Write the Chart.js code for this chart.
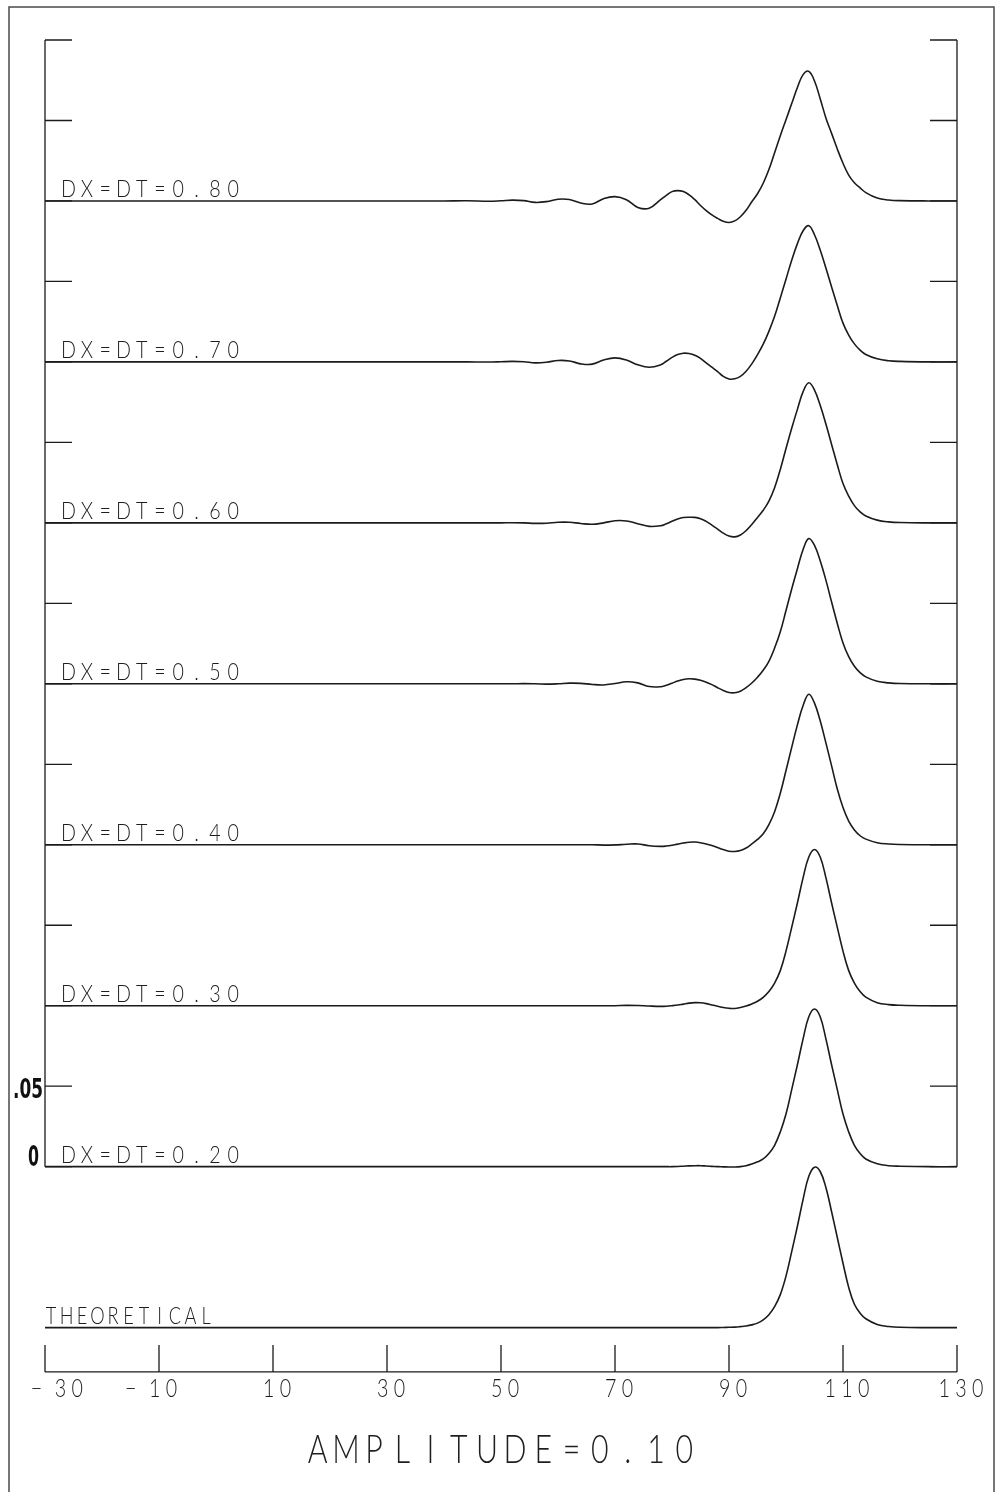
<!DOCTYPE html>
<html>
<head>
<meta charset="utf-8">
<script src="https://cdn.jsdelivr.net/npm/chart.js@4.4.1/dist/chart.umd.min.js"></script>
<style>
  html, body { margin: 0; padding: 0; background: #fff; }
  #wrap { position: relative; width: 997px; height: 1492px; }
</style>
</head>
<body>
<div id="wrap"><canvas id="plot"></canvas></div>
<script>
// x positions shared by every trace
const xs = [-30, 0, 30, 40, 44, 48, 50, 52, 54, 56, 58, 60, 62, 64, 66, 68, 70, 72, 74, 76, 78,
  79, 80, 81, 82, 83, 84, 85, 86, 87, 88, 89, 90, 91, 92, 93, 94, 95, 96,
  97, 98, 99, 100, 101, 102, 103, 104, 105, 106, 107, 108, 109, 110, 111, 112, 113, 114,
  116, 118, 120, 125, 130];

// amplitude of each trace, measured from its own baseline
const theoretical = [0, 0, 0, 0, 0, 0, 0, 0, 0, 0, 0, 0, 0, 0, 0, 0, 0, 0, 0, 0, 0,
  0, 0, 0, 0, 0, 0, 0, 0, 0, 0, 0.0001, 0.0002, 0.0003, 0.0006, 0.001, 0.0017, 0.0028, 0.0048,
  0.008, 0.013, 0.0205, 0.032, 0.0472, 0.063, 0.0797, 0.094, 0.0997, 0.097, 0.087, 0.072, 0.056, 0.040, 0.025, 0.0145, 0.009, 0.0055,
  0.002, 0.0007, 0.0002, 0, 0];
const dxdt20 = [0, 0, 0, 0, 0, 0, 0, 0, 0, 0, 0, 0, 0, 0, 0, 0, 0, 0, 0, 0, 0,
  0, 0, 0.0001, 0.0003, 0.0005, 0.0006, 0.0006, 0.0004, 0.0002, 0, -0.0001, -0.0002, -0.0002, 0, 0.0006, 0.0016, 0.003, 0.0048,
  0.0082, 0.0133, 0.0216, 0.0327, 0.0479, 0.0633, 0.0794, 0.0931, 0.098, 0.0931, 0.0794, 0.0633, 0.0479, 0.0327, 0.0216, 0.0133, 0.0082, 0.0048,
  0.0018, 0.0006, 0.0003, 0, 0];
const dxdt30 = [0, 0, 0, 0, 0, 0, 0, 0, 0, 0, 0, 0, 0, 0, 0, 0, 0, 0.0002, 0.0001, -0.0002, -0.0004,
  -0.0003, 0, 0.0004, 0.001, 0.0016, 0.0019, 0.0018, 0.0013, 0.0005, -0.0003, -0.0011, -0.0016, -0.0017, -0.0011, -0.0002, 0.0011, 0.0028, 0.0052,
  0.0088, 0.0141, 0.0218, 0.0339, 0.0487, 0.0638, 0.0796, 0.0924, 0.0971, 0.0924, 0.0796, 0.0638, 0.0487, 0.0339, 0.0218, 0.0141, 0.0088, 0.0053,
  0.0019, 0.0007, 0.0003, 0, 0];
const dxdt40 = [0, 0, 0, 0, 0, 0, 0, 0, 0, 0, 0, 0, 0, 0, 0, -0.0002, -0.0001, 0.0003, 0.0005, -0.0006, -0.001,
  -0.0008, -0.0003, 0.0004, 0.0011, 0.0016, 0.0017, 0.0013, 0.0005, -0.0005, -0.0017, -0.003, -0.004, -0.0042, -0.0036, -0.002, 0.0005, 0.0033, 0.0068,
  0.0125, 0.0205, 0.032, 0.0461, 0.0605, 0.0745, 0.0865, 0.0935, 0.088, 0.077, 0.0633, 0.049, 0.0346, 0.0231, 0.0147, 0.0092, 0.0056, 0.0035,
  0.0013, 0.0005, 0.0002, 0, 0];
const dxdt50 = [0, 0, 0, 0, 0, 0, 0, 0, 0.0001, 0, -0.0002, 0, 0.0004, 0.0003, -0.0004, -0.0007, 0.0002, 0.0013, 0.0006, -0.0017, -0.0018,
  -0.0009, 0.0004, 0.0017, 0.0027, 0.0031, 0.0029, 0.0022, 0.001, -0.0005, -0.0024, -0.0041, -0.0054, -0.0056, -0.0046, -0.0024, 0.0005, 0.0041, 0.0084,
  0.014, 0.0222, 0.0323, 0.0455, 0.0589, 0.0715, 0.0835, 0.0903, 0.086, 0.0765, 0.0644, 0.0508, 0.0375, 0.0254, 0.0169, 0.0109, 0.0069, 0.0043,
  0.0016, 0.0006, 0.0002, 0, 0];
const dxdt60 = [0, 0, 0, 0, 0, 0, 0, 0.0001, 0, -0.0003, -0.0002, 0.0004, 0.0004, -0.0004, -0.0009, 0, 0.0013, 0.0012, -0.0005, -0.0022, -0.0018,
  -0.0006, 0.001, 0.0024, 0.0033, 0.0035, 0.0034, 0.0026, 0.0009, -0.0014, -0.0039, -0.0064, -0.0082, -0.0087, -0.0075, -0.0048, -0.001, 0.0033, 0.0078,
  0.0135, 0.0218, 0.0332, 0.0462, 0.0588, 0.0705, 0.0815, 0.087, 0.0825, 0.073, 0.0614, 0.0487, 0.0361, 0.0244, 0.0166, 0.0107, 0.0068, 0.0043,
  0.0017, 0.0006, 0.0002, 0, 0];
const dxdt70 = [0, 0, 0, 0, 0, -0.0001, 0.0001, 0.0003, 0.0001, -0.0006, -0.0002, 0.0009, 0.0006, -0.0012, -0.0014, 0.0012, 0.0025, 0.0012, -0.0018, -0.0033, -0.0018,
  0.0004, 0.0028, 0.0046, 0.0054, 0.0052, 0.0042, 0.0022, -0.0006, -0.0033, -0.006, -0.009, -0.0106, -0.0105, -0.009, -0.0058, -0.0012, 0.0045, 0.011,
  0.019, 0.0283, 0.0397, 0.0514, 0.0632, 0.0735, 0.0815, 0.0846, 0.079, 0.0695, 0.0583, 0.0466, 0.035, 0.0241, 0.0167, 0.0112, 0.0073, 0.0046,
  0.0019, 0.0007, 0.0003, 0, 0];
const dxdt80 = [0, 0, 0, 0, 0.0001, -0.0002, 0.0001, 0.0005, 0.0002, -0.0009, -0.0004, 0.0011, 0.0009, -0.0013, -0.0019, 0.0014, 0.0027, 0.0008, -0.004, -0.0045, 0.0008,
  0.0035, 0.0058, 0.0064, 0.0058, 0.0038, 0.0008, -0.0028, -0.006, -0.0087, -0.0108, -0.0126, -0.0134, -0.0124, -0.0098, -0.0058, -0.0005, 0.0045, 0.011,
  0.0195, 0.03, 0.0405, 0.0505, 0.0605, 0.0705, 0.0785, 0.0805, 0.0745, 0.0635, 0.0516, 0.042, 0.0323, 0.0234, 0.0161, 0.0113, 0.0081, 0.0052,
  0.0018, 0.0006, 0.0002, 0, 0];

const traces = [theoretical, dxdt20, dxdt30, dxdt40, dxdt50, dxdt60, dxdt70, dxdt80];
const traceLabels = ['THEORETICAL', 'DX=DT=0.20', 'DX=DT=0.30', 'DX=DT=0.40', 'DX=DT=0.50',
  'DX=DT=0.60', 'DX=DT=0.70', 'DX=DT=0.80'];
// each trace is stacked 0.1 above the previous one
const traceOffsets = [0, 0.1, 0.2, 0.3, 0.4, 0.5, 0.6, 0.7];

const xTicks = [-30, -10, 10, 30, 50, 70, 90, 110, 130];
const frameTicks = [0.1, 0.15, 0.2, 0.25, 0.3, 0.35, 0.4, 0.45, 0.5, 0.55, 0.6, 0.65, 0.7, 0.75, 0.8];
const ampTickValues = [0.1, 0.15];
const ampTickText = ['0', '.05'];
const axisY = -0.0275;
const title = 'AMPLITUDE=0.10';

const INK = '#1b1b1b';

// plotter style lettering: fixed pitch, thin strokes
function plotText(ctx, str, x, baseY, cap, pitch, glyphW) {
  const size = cap / 0.72;
  ctx.font = `300 ${size}px Lato, "DejaVu Sans", sans-serif`;
  ctx.textAlign = 'center';
  ctx.textBaseline = 'alphabetic';
  ctx.fillStyle = '#1e1e1e';
  const sx = glyphW / (size * 0.66);
  for (let i = 0; i < str.length; i++) {
    const ch = str[i];
    if (ch === ' ') continue;
    ctx.save();
    ctx.translate(x + i * pitch + glyphW / 2, baseY);
    ctx.scale(sx, 1);
    ctx.fillText(ch, 0, 0);
    ctx.restore();
  }
}

function fittedText(ctx, str, rightX, baseY, size, width) {
  ctx.font = `bold ${size}px "Liberation Sans Narrow", "DejaVu Sans Condensed", "Liberation Sans", sans-serif`;
  ctx.textAlign = 'left';
  ctx.textBaseline = 'alphabetic';
  ctx.fillStyle = '#111';
  const w = ctx.measureText(str).width;
  ctx.save();
  ctx.translate(rightX - width, baseY);
  ctx.scale(width / w, 1);
  ctx.fillText(str, 0, 0);
  ctx.restore();
}

const decorations = {
  id: 'decorations',
  afterDatasetsDraw(chart) {
    const ctx = chart.ctx;
    const x = chart.scales.x, y = chart.scales.y;
    const left = x.getPixelForValue(-30), right = x.getPixelForValue(130);
    const tickLen = 27;

    ctx.save();
    // page border
    ctx.strokeStyle = '#4a4a4a';
    ctx.lineWidth = 1.5;
    ctx.beginPath();
    ctx.moveTo(9, 1492); ctx.lineTo(9, 7); ctx.lineTo(994, 7); ctx.lineTo(994, 1492);
    ctx.stroke();

    // frame around the stacked traces
    ctx.strokeStyle = INK;
    ctx.lineWidth = 1.3;
    ctx.beginPath();
    ctx.moveTo(left, y.getPixelForValue(0.1)); ctx.lineTo(left, y.getPixelForValue(0.8));
    ctx.moveTo(right, y.getPixelForValue(0.1)); ctx.lineTo(right, y.getPixelForValue(0.8));
    frameTicks.forEach(v => {
      const py = y.getPixelForValue(v);
      ctx.moveTo(left, py); ctx.lineTo(left + tickLen, py);
      ctx.moveTo(right - tickLen, py); ctx.lineTo(right, py);
    });
    ctx.stroke();

    // x axis with upward ticks
    const ay = y.getPixelForValue(axisY);
    ctx.beginPath();
    ctx.moveTo(left, ay); ctx.lineTo(right, ay);
    xTicks.forEach(v => {
      const px = x.getPixelForValue(v);
      ctx.moveTo(px, ay); ctx.lineTo(px, ay - tickLen);
    });
    ctx.stroke();

    // tick labels
    const pitch = 16.7, gw = 13;
    xTicks.forEach(v => {
      const px = x.getPixelForValue(v);
      const digits = String(Math.abs(v));
      const dw = (digits.length - 1) * pitch + gw;
      let start = px + 4 - dw / 2;
      if (v < 0) start -= 24;
      start = Math.max(start, 30);
      if (v < 0) {
        plotText(ctx, '\u2212', start, ay + 25, 19, pitch, gw);
        plotText(ctx, digits, start + 24, ay + 25, 19, pitch, gw);
      } else {
        plotText(ctx, digits, start, ay + 25, 19, pitch, gw);
      }
    });

    // title
    const tp = 28.2, tg = 20;
    const tw = (title.length - 1) * tp + tg;
    const mid = (left + right) / 2;
    plotText(ctx, title, mid - tw / 2, ay + 91, 28, tp, tg);

    // trace labels sitting on each baseline
    traceLabels.forEach((lab, i) => {
      const py = y.getPixelForValue(traceOffsets[i]) - 4;
      if (i === 0) plotText(ctx, lab, left, py, 17, 15.5, 12);
      else plotText(ctx, lab, left + 17, py, 17, 18.3, 13);
    });

    // amplitude scale labels
    fittedText(ctx, ampTickText[0], 39, y.getPixelForValue(ampTickValues[0]) - 1, 28, 11);
    fittedText(ctx, ampTickText[1], 43, y.getPixelForValue(ampTickValues[1]) + 12, 26, 30);
    ctx.restore();
  }
};

new Chart(document.getElementById('plot'), {
  type: 'line',
  data: {
    datasets: traces.map((vals, i) => ({
      label: traceLabels[i],
      data: xs.map((xv, j) => ({ x: xv, y: vals[j] + traceOffsets[i] })),
      borderColor: INK,
      borderWidth: 1.6,
      pointRadius: 0,
      fill: false,
      tension: 0.4
    }))
  },
  options: {
    responsive: true,
    maintainAspectRatio: false,
    animation: false,
    layout: { padding: { left: 45, right: 40, top: 40, bottom: 100 } },
    scales: {
      x: { type: 'linear', min: -30, max: 130, display: false },
      y: { type: 'linear', min: -0.04, max: 0.8, display: false }
    },
    plugins: {
      legend: { display: false },
      tooltip: { enabled: false }
    }
  },
  plugins: [decorations]
});
</script>
</body>
</html>
